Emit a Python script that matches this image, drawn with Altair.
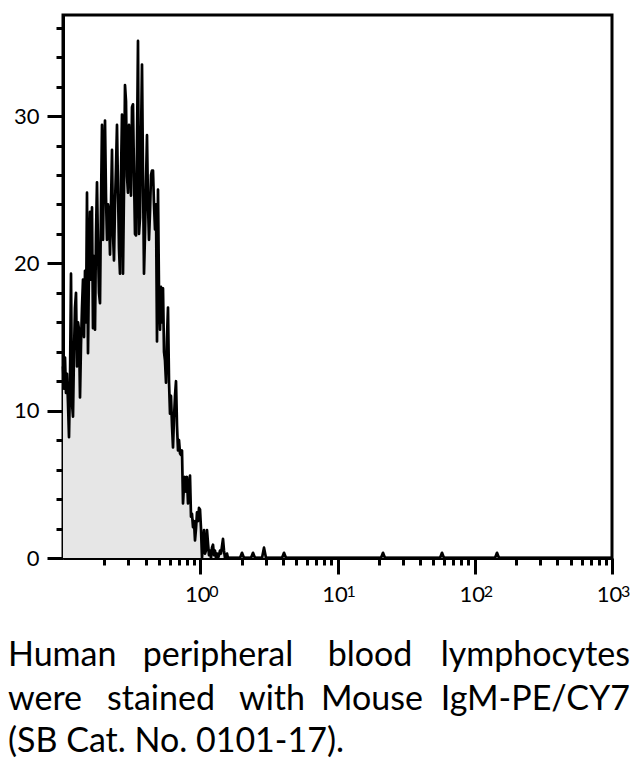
import altair as alt
import pandas as pd

# ---- data -----------------------------------------------------------------
CHANNELS_PER_DECADE = 137.25          # 549 channels over 4 decades (0.1 .. 1000)

# counts per channel for the main population (channels 0..165)
body_counts = [
    13.0, 11.5, 13.6, 11.2, 12.5, 10.5, 8.2, 12.0, 19.3, 10.5,
    9.6, 14.0, 17.0, 18.0, 13.0, 16.0, 15.5, 10.9, 14.5, 17.0,
    18.9, 15.0, 19.5, 16.0, 24.8, 13.9, 20.0, 23.5, 18.9, 23.8,
    15.6, 20.5, 15.5, 22.0, 25.5, 21.0, 18.0, 17.3, 24.0, 29.4,
    21.6, 27.0, 29.7, 24.5, 21.6, 24.0, 23.5, 20.6, 24.0, 27.7,
    22.0, 20.2, 24.0, 26.5, 29.4, 25.0, 21.0, 19.3, 26.0, 30.1,
    19.3, 25.0, 32.1, 31.0, 25.9, 24.8, 29.4, 27.0, 24.6, 30.6,
    30.8, 26.0, 22.0, 21.9, 28.0, 35.1, 22.0, 23.1, 28.5, 33.5,
    26.0, 19.3, 22.0, 25.5, 28.7, 24.0, 21.6, 23.5, 26.0, 26.3,
    26.3, 24.0, 22.3, 24.0, 14.7, 25.0, 18.0, 15.5, 18.4, 16.0,
    18.3, 14.0, 13.4, 11.9, 15.0, 17.0, 12.0, 9.8, 11.0, 9.0,
    7.5, 9.5, 11.0, 12.0, 9.0, 7.3, 8.0, 7.1, 7.0, 7.3,
    3.7, 5.0, 5.5, 4.5, 5.5, 3.7, 4.5, 5.6, 2.8, 3.0,
    2.1, 2.5, 1.2, 2.0, 3.1, 2.5, 3.4, 3.3, 2.0, 0.0,
    1.0, 1.9, 0.3, 0.5, 1.9, 1.0, 0.2, 0.5, 0.0, 0.7,
    0.9, 0.2, 0.5, 0.0, 0.3, 0.0, 0.2, 0.5, 0.3, 0.8,
    1.3, 0.5, 0.0, 0.1, 0.3, 0.0,
]

# sparse events in the tail
tail_channels = [167, 177, 179, 181, 188, 190, 192, 199, 201, 203, 219, 221, 223,
                 318, 320, 322, 377, 379, 381, 432, 434, 436, 549]
tail_counts = [0, 0, 0.35, 0, 0, 0.35, 0, 0, 0.7, 0, 0, 0.35, 0,
               0, 0.35, 0, 0, 0.35, 0, 0, 0.35, 0, 0]

x_ticks = [0.2, 0.3, 0.4, 0.5, 0.6, 0.7, 0.8, 0.9, 1,
           2, 3, 4, 5, 6, 7, 8, 9, 10,
           20, 30, 40, 50, 60, 70, 80, 90, 100,
           200, 300, 400, 500, 600, 700, 800, 900, 1000]
decades = [1, 10, 100, 1000]
exponents = ["0", "1", "2", "3"]
y_ticks = [0, 2, 4, 6, 8, 10, 12, 14, 16, 18, 20, 22, 24, 26, 28, 30, 32, 34, 36]

caption_lines = [
    ["Human", "peripheral", "blood", "lymphocytes"],
    ["were", "stained", "with", "Mouse", "IgM-PE/CY7"],
    ["(SB Cat. No. 0101-17)."],
]

# ---- build ---------------------------------------------------------------
channels = list(range(len(body_counts))) + tail_channels
counts = body_counts + tail_counts
df = pd.DataFrame({
    "x": [10 ** (c / CHANNELS_PER_DECADE - 1) for c in channels],
    "count": counts,
})
exp_df = pd.DataFrame({"x": decades, "e": exponents})

W, H = 549, 543
FONT = "Lato"

common_axis = dict(
    title=None, grid=False, labelOverlap=False, labelFlush=False,
    domainColor="black", domainWidth=3, tickColor="black", tickWidth=3,
    labelColor="black", labelFont=FONT, labelFontSize=22,
)

x_enc = alt.X(
    "x:Q",
    scale=alt.Scale(type="log", domain=[0.1, 1000], nice=False),
    axis=alt.Axis(
        values=x_ticks,
        labelExpr="indexof([1,10,100,1000], datum.value) >= 0 ? '10' : ''",
        tickSize={"condition": {"test": "indexof([1,10,100,1000], datum.value) >= 0",
                                "value": 16}, "value": 7},
        labelPadding=10,
        labelOffset=-3,
        **common_axis,
    ),
)
y_enc = alt.Y(
    "count:Q",
    scale=alt.Scale(domain=[0, 36.86], nice=False, zero=True),
    axis=alt.Axis(
        values=y_ticks,
        labelExpr="datum.value % 10 === 0 ? datum.label : ''",
        tickSize={"condition": {"test": "datum.value % 10 === 0", "value": 16},
                  "value": 7},
        labelPadding=8,
        **common_axis,
    ),
)

area = alt.Chart(df).mark_area(color="#e6e6e6", interpolate="linear").encode(x=x_enc, y=y_enc)
line = alt.Chart(df).mark_line(color="black", strokeWidth=2.7, interpolate="linear",
                               strokeJoin="round").encode(x=x_enc, y=y_enc)

# superscript exponents of the decade labels
exps = alt.Chart(exp_df).mark_text(
    align="left", baseline="alphabetic", font=FONT, fontSize=16, color="black", dx=9,
).encode(x=x_enc, y=alt.value(H + 39), text="e:N")

# caption, justified like the reference (plot-relative pixel layout)
baselines = [651, 695, 737]
left_x = -55
right_x = 567
center_x = {"peripheral": 155, "blood": 307, "stained": 98, "with": 209, "Mouse": 309}

caption_layers = []
for li, words in enumerate(caption_lines):
    for wi, w in enumerate(words):
        if wi == 0:
            align, px = "left", left_x
        elif wi == len(words) - 1:
            align, px = "right", right_x
        else:
            align, px = "center", center_x[w]
        caption_layers.append(
            alt.Chart(pd.DataFrame({"t": [w]})).mark_text(
                align=align, baseline="alphabetic", font=FONT, fontSize=34,
                color="black",
            ).encode(text="t:N", x=alt.value(px), y=alt.value(baselines[li]))
        )

chart = alt.layer(area, line, exps, *caption_layers).properties(
    width=W, height=H,
    autosize=alt.AutoSizeParams(type="none"),
    padding={"left": 55, "top": 7, "right": 20, "bottom": 200},
).configure_view(
    stroke="black", strokeWidth=3,
)

chart.save("out.html", embed_options={"renderer": "svg", "actions": False})
